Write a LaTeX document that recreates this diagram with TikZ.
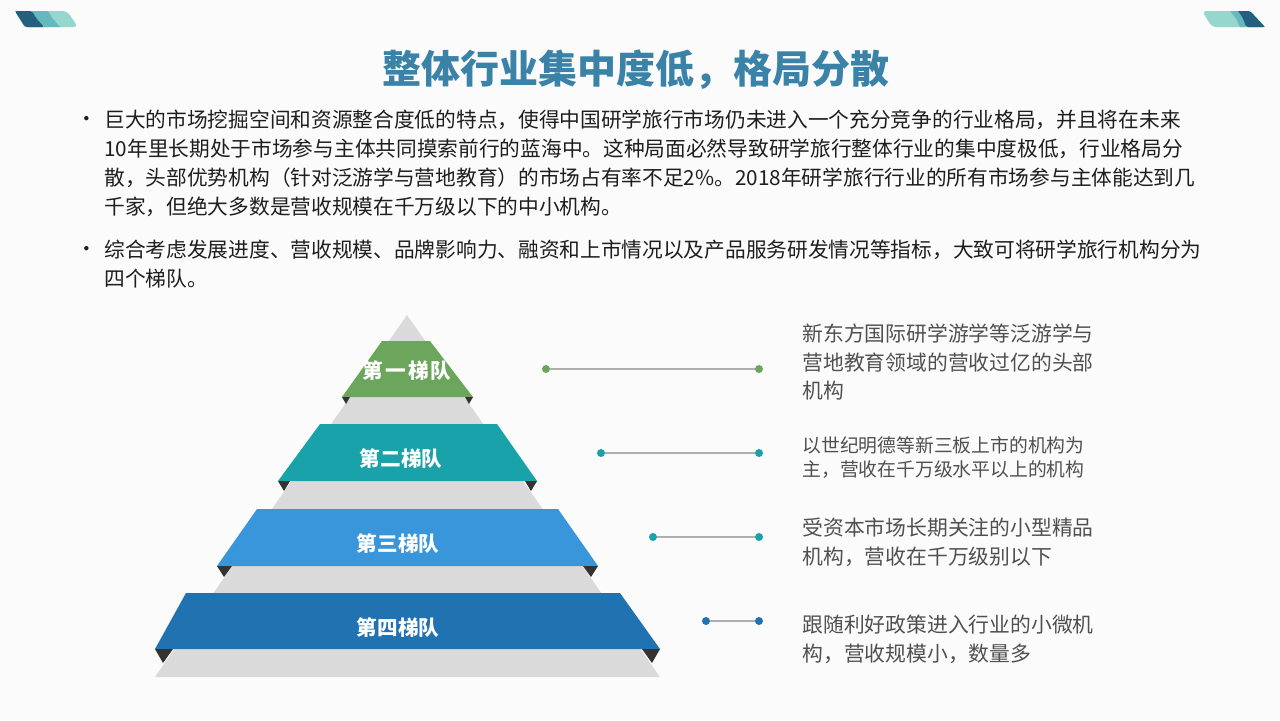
\documentclass[tikz,border=0pt]{standalone}
\usepackage{fontspec}
\setmainfont{Noto Sans CJK SC}
\usetikzlibrary{positioning}

\definecolor{pagebg}{RGB}{251,251,251}
\definecolor{titleblue}{RGB}{58,130,168}
\definecolor{bodyink}{RGB}{30,30,30}
\definecolor{descink}{RGB}{80,80,80}
\definecolor{pyrgray}{RGB}{218,218,218}
\definecolor{cornerdark}{RGB}{51,51,51}
\definecolor{tiergreen}{RGB}{108,166,92}
\definecolor{tierteal}{RGB}{26,162,170}
\definecolor{tiersky}{RGB}{58,150,218}
\definecolor{tierblue}{RGB}{33,114,176}
\definecolor{linkgray}{RGB}{175,175,175}
\definecolor{ribbondark}{RGB}{35,96,126}
\definecolor{ribbonmid}{RGB}{100,185,190}
\definecolor{ribbonlight}{RGB}{150,215,205}

\begin{document}
\begin{tikzpicture}[x=0.5pt,y=-0.5pt,
    bodyline/.style={anchor=west, inner sep=0pt, text=bodyink,
      font=\fontsize{10.35pt}{12pt}\selectfont},
    descline/.style={anchor=west, inner sep=0pt, text=descink,
      font=\fontsize{10.4pt}{12pt}\selectfont},
    descsmall/.style={descline, font=\fontsize{9.4pt}{11pt}\selectfont},
    tierlabel/.style={inner sep=0pt, text=white,
      font=\bfseries\fontsize{10.3pt}{12pt}\selectfont},
    dot/.style={circle, inner sep=0pt, minimum size=4pt},
    link/.style={draw=linkgray, line width=1pt}]

    % page
    \fill[pagebg] (0,0) rectangle (1280,720);
    \useasboundingbox (0,0) rectangle (1280,720);

    % corner ribbons
    \fill[ribbonlight, rounded corners=2pt] (15,11) -- (67,11) -- (78,27) -- (25,27) -- cycle;
    \fill[ribbonmid] (15,11) -- (48,11) .. controls (52,18) .. (60,27) -- (25,27) -- cycle;
    \fill[ribbondark, rounded corners=1pt] (15,11) -- (32,11) .. controls (36,18) .. (44,27) -- (25,27) -- cycle;

    \fill[ribbonlight, rounded corners=2pt] (1202,11) -- (1250,11) -- (1265,27) -- (1212,27) -- cycle;
    \fill[ribbonmid] (1230,11) -- (1250,11) -- (1265,27) -- (1240,27) .. controls (1236,18) .. (1230,11);
    \fill[ribbondark, rounded corners=1pt] (1238,11) -- (1250,11) -- (1265,27) -- (1246,27) .. controls (1243,18) .. (1238,11);

    % title
    \node[text=titleblue, font=\bfseries\fontsize{19.5pt}{22pt}\selectfont] (title) at (636,70)
      {整体行业集中度低，格局分散};

    % bullet text
    \node[bodyline] (b1) at (76,121) {•};
    \node[bodyline] (l1) at (104,120) {巨大的市场挖掘空间和资源整合度低的特点，使得中国研学旅行市场仍未进入一个充分竞争的行业格局，并且将在未来};
    \node[bodyline] (l2) at (104,149) {10年里长期处于市场参与主体共同摸索前行的蓝海中。这种局面必然导致研学旅行整体行业的集中度极低，行业格局分};
    \node[bodyline] (l3) at (104,178) {散，头部优势机构（针对泛游学与营地教育）的市场占有率不足2\%。2018年研学旅行行业的所有市场参与主体能达到几};
    \node[bodyline] (l4) at (104,207) {千家，但绝大多数是营收规模在千万级以下的中小机构。};
    \node[bodyline] (b2) at (76,251) {•};
    \node[bodyline] (l5) at (104,250) {综合考虑发展进度、营收规模、品牌影响力、融资和上市情况以及产品服务研发情况等指标，大致可将研学旅行机构分为};
    \node[bodyline] (l6) at (104,279) {四个梯队。};

    % pyramid
    \fill[pyrgray] (407,315) -- (660,677) -- (155,677) -- cycle;

    \fill[tiergreen] (382,341) -- (430,341) -- (473,397) -- (342,397) -- cycle;
    \fill[cornerdark] (342,397) -- (350,397) -- (346,404) -- cycle;
    \fill[cornerdark] (465,397) -- (473,397) -- (469,404) -- cycle;

    \fill[tierteal] (320,424) -- (497,424) -- (537,481) -- (278,481) -- cycle;
    \fill[cornerdark] (278,481) -- (290,481) -- (284,491) -- cycle;
    \fill[cornerdark] (525,481) -- (537,481) -- (531,491) -- cycle;

    \fill[tiersky] (257,509) -- (558,509) -- (598,566) -- (217,566) -- cycle;
    \fill[cornerdark] (217,566) -- (232,566) -- (224,577) -- cycle;
    \fill[cornerdark] (583,566) -- (598,566) -- (591,577) -- cycle;

    \fill[tierblue] (186,593) -- (620,593) -- (660,649) -- (155,649) -- cycle;
    \fill[cornerdark] (155,649) -- (173,649) -- (163,663) -- cycle;
    \fill[cornerdark] (642,649) -- (660,649) -- (652,663) -- cycle;

    \node[tierlabel] (t1) at (407,371) {第\hspace{1pt}一\hspace{1pt}梯\hspace{1pt}队};
    \node[tierlabel] (t2) at (401,459) {第二梯队};
    \node[tierlabel] (t3) at (398,544) {第三梯队};
    \node[tierlabel] (t4) at (398,628) {第四梯队};

    % connectors
    \node[dot, fill=tiergreen] (d1a) at (546,369) {};
    \node[dot, fill=tiergreen] (d1b) at (759,369) {};
    \node[dot, fill=tierteal] (d2a) at (601,453) {};
    \node[dot, fill=tierteal] (d2b) at (759,453) {};
    \node[dot, fill=tierteal] (d3a) at (653,537) {};
    \node[dot, fill=tierteal] (d3b) at (759,537) {};
    \node[dot, fill=tierblue] (d4a) at (706,621) {};
    \node[dot, fill=tierblue] (d4b) at (759,621) {};
    \draw[link] (d1a) -- (d1b);
    \draw[link] (d2a) -- (d2b);
    \draw[link] (d3a) -- (d3b);
    \draw[link] (d4a) -- (d4b);

    % descriptions
    \node[descline] (r1a) at (802,334) {新东方国际研学游学等泛游学与};
    \node[descline] (r1b) at (802,363) {营地教育领域的营收过亿的头部};
    \node[descline] (r1c) at (802,391) {机构};
    \node[descsmall] (r2a) at (802,445) {以世纪明德等新三板上市的机构为};
    \node[descsmall] (r2b) at (802,470) {主，营收在千万级水平以上的机构};
    \node[descline] (r3a) at (802,528) {受资本市场长期关注的小型精品};
    \node[descline] (r3b) at (802,557) {机构，营收在千万级别以下};
    \node[descline] (r4a) at (802,625) {跟随利好政策进入行业的小微机};
    \node[descline] (r4b) at (802,654) {构，营收规模小，数量多};

\end{tikzpicture}
\end{document}
